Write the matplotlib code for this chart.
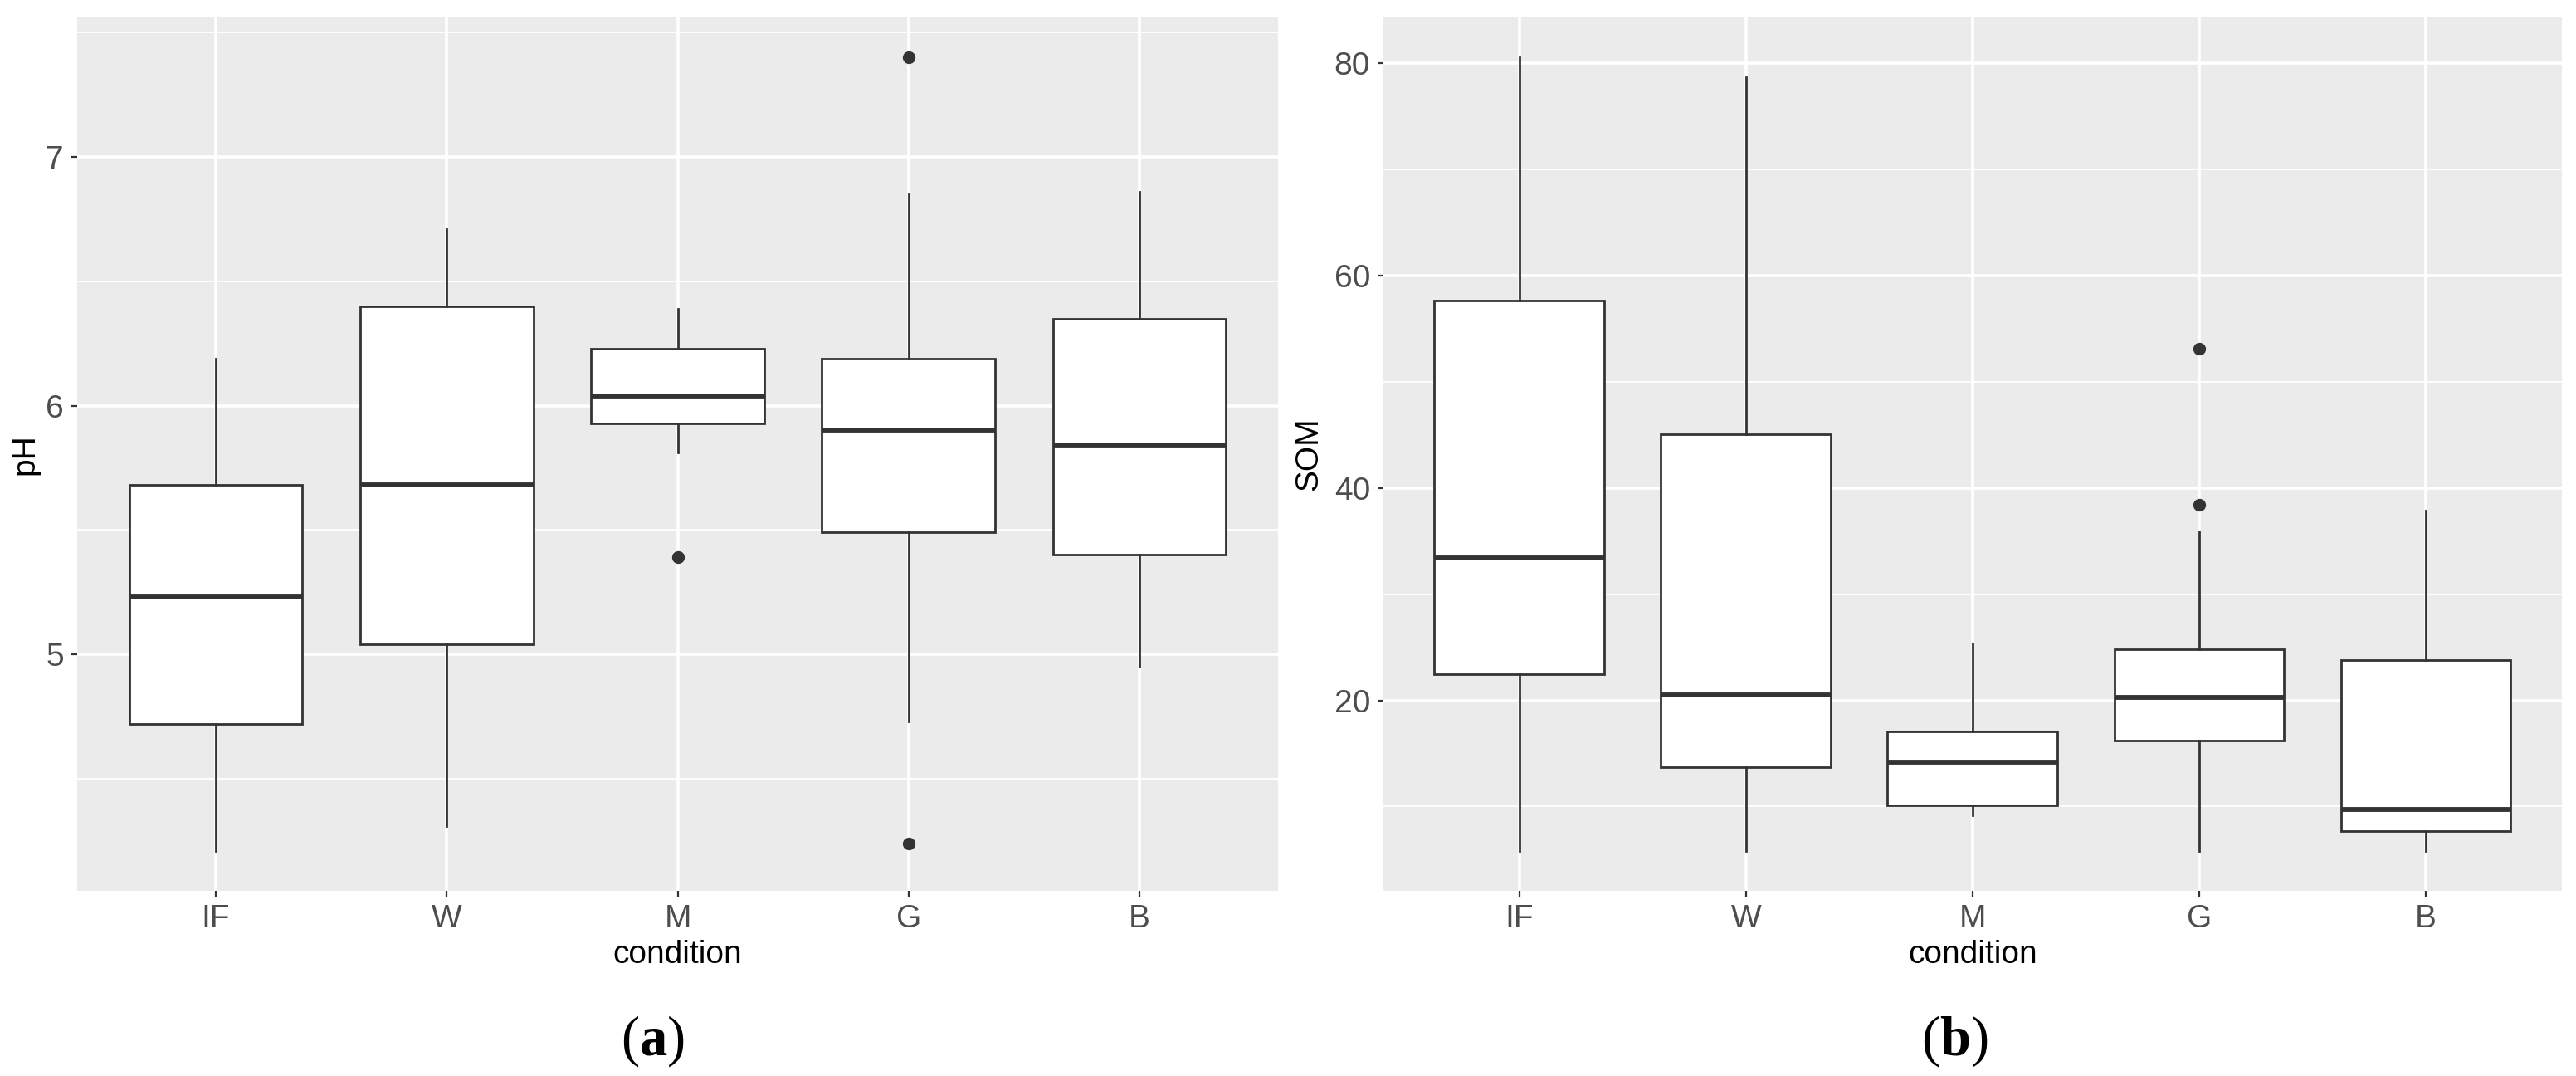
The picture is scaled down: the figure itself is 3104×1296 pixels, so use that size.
import numpy as np
import matplotlib
matplotlib.use("Agg")
import matplotlib.pyplot as plt
from matplotlib.ticker import MultipleLocator

plt.rcParams['font.family'] = ['Liberation Sans', 'DejaVu Sans']
plt.rcParams['mathtext.fontset'] = 'custom'
plt.rcParams['mathtext.rm'] = 'Liberation Serif'
plt.rcParams['mathtext.bf'] = 'Liberation Serif:bold'

conditions = ['IF', 'W', 'M', 'G', 'B']

# (a) pH
ph_whislo = [4.21, 4.31, 5.81, 4.73, 4.95]
ph_q1 = [4.72, 5.04, 5.93, 5.49, 5.40]
ph_med = [5.23, 5.68, 6.04, 5.90, 5.84]
ph_q3 = [5.68, 6.40, 6.23, 6.19, 6.35]
ph_whishi = [6.19, 6.71, 6.39, 6.85, 6.86]
ph_fliers = [[], [], [5.39], [7.40, 4.24], []]

# (b) SOM
som_whislo = [5.8, 5.8, 9.2, 5.8, 5.8]
som_q1 = [22.5, 13.7, 10.1, 16.2, 7.7]
som_med = [33.4, 20.5, 14.2, 20.3, 9.7]
som_q3 = [57.7, 45.1, 17.1, 24.8, 23.8]
som_whishi = [80.6, 78.7, 25.4, 35.9, 37.9]
som_fliers = [[], [], [], [53.1, 38.4], []]

BG = '#EBEBEB'
LINE = '#333333'


def make_stats(lo, q1, med, q3, hi, fl):
    stats = []
    for i in range(len(lo)):
        stats.append(dict(whislo=lo[i], q1=q1[i], med=med[i], q3=q3[i],
                          whishi=hi[i], fliers=fl[i], label=conditions[i]))
    return stats


def gg_box(ax, stats, ylabel, major, label_x):
    pos = np.arange(1, len(stats) + 1)
    ax.bxp(stats, positions=pos, widths=0.75, patch_artist=True,
           showcaps=False, zorder=3,
           boxprops=dict(facecolor='white', edgecolor=LINE, linewidth=2.0),
           medianprops=dict(color=LINE, linewidth=4.2, solid_capstyle='butt'),
           whiskerprops=dict(color=LINE, linewidth=2.0),
           flierprops=dict(marker='o', markersize=10, markerfacecolor=LINE,
                           markeredgecolor=LINE))

    # ggplot-like expansion of the scales
    vals = []
    for s in stats:
        vals += [s['whislo'], s['whishi']] + list(s['fliers'])
    lo, hi = min(vals), max(vals)
    pad = (hi - lo) * 0.05
    ax.set_ylim(lo - pad, hi + pad)
    ax.set_xlim(0.4, len(stats) + 0.6)

    ax.set_facecolor(BG)
    for sp in ax.spines.values():
        sp.set_visible(False)
    ax.yaxis.set_major_locator(MultipleLocator(major))
    ax.yaxis.set_minor_locator(MultipleLocator(major / 2))
    ax.grid(True, which='major', color='white', linewidth=2.6, zorder=0)
    ax.grid(True, which='minor', axis='y', color='white', linewidth=1.3, zorder=0)
    ax.set_axisbelow(True)
    ax.tick_params(which='major', length=5, width=1.6, color=LINE,
                   labelsize=28, labelcolor='#4D4D4D', pad=6.5)
    ax.tick_params(which='minor', length=0)
    ax.yaxis.set_major_formatter(plt.FuncFormatter(lambda v, p: '%g' % v))

    ax.set_xticks(pos)
    ax.set_xticklabels(conditions)
    ax.set_xlabel('condition', fontsize=28)
    ax.set_ylabel(ylabel, fontsize=28)
    ax.xaxis.set_label_coords(0.5, -0.056)
    ax.yaxis.set_label_coords(label_x, 0.5)


fig = plt.figure(figsize=(31.04, 12.96), dpi=100)
ax1 = fig.add_axes([0.02996, 0.1721, 0.4662, 0.8117])
ax2 = fig.add_axes([0.5370, 0.1721, 0.4575, 0.8117])

gg_box(ax1, make_stats(ph_whislo, ph_q1, ph_med, ph_q3, ph_whishi, ph_fliers),
       'pH', 1, -0.031)
gg_box(ax2, make_stats(som_whislo, som_q1, som_med, som_q3, som_whishi, som_fliers),
       'SOM', 20, -0.0507)

fig.text(0.2535, 0.032, r'$(\mathbf{a})$', ha='center', va='center', fontsize=48)
fig.text(0.7587, 0.032, r'$(\mathbf{b})$', ha='center', va='center', fontsize=48)

fig.savefig('out.png', dpi=100, facecolor='white')
